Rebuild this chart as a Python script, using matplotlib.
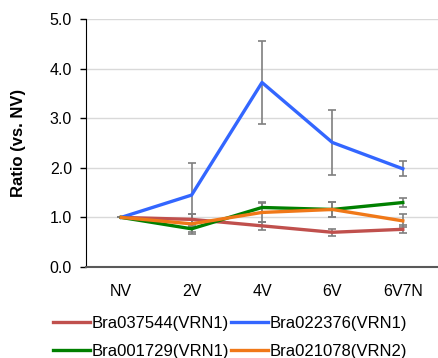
import matplotlib
matplotlib.use("Agg")
import matplotlib.pyplot as plt
from matplotlib.lines import Line2D

plt.rcParams['font.family'] = ['Liberation Sans', 'DejaVu Sans']

categories = ["NV", "2V", "4V", "6V", "6V7N"]
names = ["Bra037544(VRN1)", "Bra022376(VRN1)", "Bra001729(VRN1)", "Bra021078(VRN2)"]
red_vals = [1.0, 0.96, 0.83, 0.70, 0.76]
red_err = [0.0, 0.10, 0.08, 0.07, 0.08]
blue_vals = [1.0, 1.45, 3.72, 2.51, 1.98]
blue_err = [0.0, 0.64, 0.84, 0.66, 0.15]
green_vals = [1.0, 0.77, 1.20, 1.16, 1.30]
green_err = [0.0, 0.06, 0.12, 0.15, 0.10]
orange_vals = [1.0, 0.87, 1.10, 1.16, 0.93]
orange_err = [0.0, 0.20, 0.20, 0.15, 0.13]
colors = ["#C0504D", "#3366FF", "#008000", "#F07818"]

fig = plt.figure(figsize=(4.38, 3.58), dpi=100)
ax = fig.add_axes([86/438, 1-267/358, 1-86/438, (267-19)/358])
x = list(range(len(categories)))
series = [(red_vals, red_err), (blue_vals, blue_err), (green_vals, green_err), (orange_vals, orange_err)]
for (v, e), c, n in zip(series, colors, names):
    ax.errorbar(x, v, yerr=e, color=c, lw=2.4, ecolor="#7F7F7F", elinewidth=1.2,
                capsize=3, capthick=1.2, label=n, zorder=3)

ax.set_xlim(-0.5, 4.5)
ax.set_ylim(0, 5)
ax.set_yticks([0, 1, 2, 3, 4, 5])
ax.set_yticklabels([f"{t:.1f}" for t in [0, 1, 2, 3, 4, 5]], fontsize=11.5)
ax.set_xticks(x)
ax.set_xticklabels(categories, fontsize=11.5)
ax.tick_params(axis='x', length=0, pad=12)
ax.tick_params(axis='y', length=4, width=1, direction='out', pad=6)
ax.yaxis.grid(True, color="#D9D9D9", lw=1)
ax.set_axisbelow(True)
for s in ["top", "right"]:
    ax.spines[s].set_visible(False)
ax.spines["left"].set_color("black")
ax.spines["bottom"].set_color("#595959")
ax.spines["bottom"].set_linewidth(1.5)
ax.set_ylabel("Ratio (vs. NV)", fontsize=12, fontweight='bold')
ax.yaxis.set_label_coords(-0.17, 0.5)

# legend order: row 1 red, blue; row 2 green, orange (matplotlib fills column-wise)
order = [0, 2, 1, 3]
handles = [Line2D([0], [0], color=colors[i], lw=2.4) for i in order]
labels = [names[i] for i in order]
fig.legend(handles, labels, loc="lower center", bbox_to_anchor=(0.525, -0.045), ncol=2,
           frameon=False, fontsize=12, handlelength=2.2, handletextpad=0.1,
           columnspacing=0.15, labelspacing=0.8)

fig.savefig("out.png", dpi=100)
